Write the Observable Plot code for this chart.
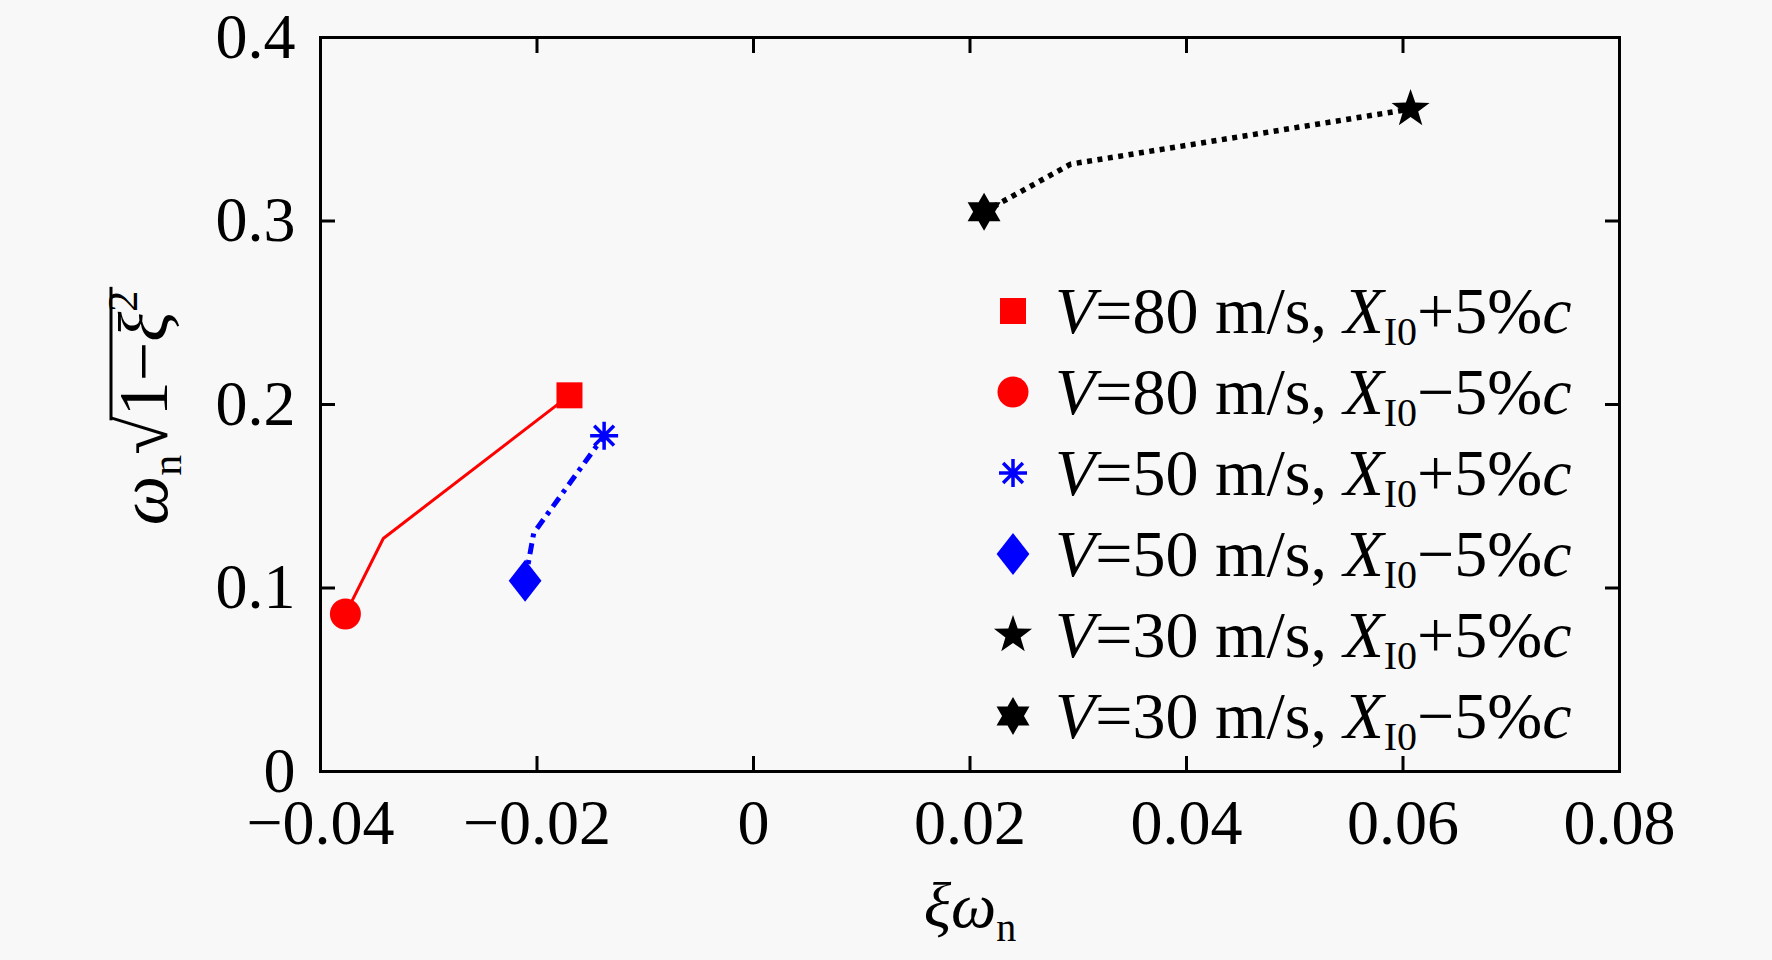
<!DOCTYPE html>
<html><head><meta charset="utf-8">
<script src="https://cdn.jsdelivr.net/npm/d3@7"></script>
<script src="https://cdn.jsdelivr.net/npm/@observablehq/plot@0.6"></script>
<style>
html,body{margin:0;padding:0;background:#f8f8f8;}
svg text{font-family:"Liberation Serif","Times New Roman",serif;}
</style>
</head><body><div id="chart"></div>
<script>
// ---- data ----
const speeds = [80, 50, 30];                       // V, m/s
const colors = ["#ff0000", "#0000ff", "#000000"];
// real part ξω_n for X_I0−5%c, nominal, X_I0+5%c
const realMinus   = [-0.0377, -0.0211, 0.0213];
const realNominal = [-0.0342, -0.0203, 0.0293];
const realPlus    = [-0.0170, -0.0138, 0.0607];
// imaginary part ω_n√(1−ξ²)
const imagMinus   = [0.0858, 0.104, 0.305];
const imagNominal = [0.127, 0.130, 0.331];
const imagPlus    = [0.205, 0.183, 0.361];
const xTicks = [-0.04, -0.02, 0, 0.02, 0.04, 0.06, 0.08];
const yTicks = [0, 0.1, 0.2, 0.3, 0.4];
const legendSpeeds = [80, 80, 50, 50, 30, 30];
const legendSigns = ["+", "\u2212", "+", "\u2212", "+", "\u2212"];

// ---- symbols ----
const rad = s => Math.sqrt(s / Math.PI);
const symSquare = {draw(c, s){const r = rad(s); c.moveTo(-r,-r); c.lineTo(r,-r); c.lineTo(r,r); c.lineTo(-r,r); c.closePath();}};
const symCircle = {draw(c, s){const r = rad(s); c.moveTo(r,0); c.arc(0,0,r,0,2*Math.PI); c.closePath();}};
const symAsterisk = {draw(c, s){const r = rad(s), d = r*Math.SQRT1_2;
  c.moveTo(-r,0); c.lineTo(r,0); c.moveTo(0,-r); c.lineTo(0,r);
  c.moveTo(-d,-d); c.lineTo(d,d); c.moveTo(-d,d); c.lineTo(d,-d);}};
const symDiamond = {draw(c, s){const r = rad(s), w = r*0.78; c.moveTo(0,-r); c.lineTo(w,0); c.lineTo(0,r); c.lineTo(-w,0); c.closePath();}};
function starSym(n, ratio){ return {draw(c, s){const r = rad(s), ri = r*ratio;
  for (let i = 0; i < 2*n; i++){ const a = -Math.PI/2 + i*Math.PI/n, rr = i % 2 ? ri : r;
    const px = rr*Math.cos(a), py = rr*Math.sin(a); if (i) c.lineTo(px,py); else c.moveTo(px,py);} c.closePath();}}; }
const symStar5 = starSym(5, 0.40);
const symStar6 = starSym(6, 0.577);

const plusSym = [symSquare, symAsterisk, symStar5];
const minusSym = [symCircle, symDiamond, symStar6];
const plusR = [13, 14, 20];
const minusR = [15.5, 21, 19];
const lineStyle = [
  {strokeWidth: 3, strokeDasharray: null},
  {strokeWidth: 5, strokeDasharray: "11,6,4,6"},
  {strokeWidth: 5.5, strokeDasharray: "5,5.5"}
];

const marks = [];
speeds.forEach((v, i) => {
  const pts = [
    {x: realMinus[i], y: imagMinus[i]},
    {x: realNominal[i], y: imagNominal[i]},
    {x: realPlus[i], y: imagPlus[i]}
  ];
  marks.push(Plot.line(pts, {x: "x", y: "y", stroke: colors[i], strokeWidth: lineStyle[i].strokeWidth,
    strokeDasharray: lineStyle[i].strokeDasharray, strokeLinecap: "butt", strokeLinejoin: "miter", curve: "linear"}));
});
speeds.forEach((v, i) => {
  const isAst = plusSym[i] === symAsterisk;
  marks.push(Plot.dot([{x: realPlus[i], y: imagPlus[i]}], {x: "x", y: "y", symbol: plusSym[i], r: plusR[i],
    fill: isAst ? "none" : colors[i], stroke: colors[i], strokeWidth: isAst ? 3.5 : 0}));
  marks.push(Plot.dot([{x: realMinus[i], y: imagMinus[i]}], {x: "x", y: "y", symbol: minusSym[i], r: minusR[i],
    fill: colors[i], stroke: colors[i], strokeWidth: 0}));
});

const fmtX = d => d === 0 ? "0" : (d < 0 ? "\u2212" : "") + Math.abs(d).toFixed(2);
const fmtY = d => d === 0 ? "0" : d.toFixed(1);

const chart = Plot.plot({
  width: 1772, height: 960,
  marginLeft: 320, marginRight: 153, marginTop: 37, marginBottom: 189,
  x: {domain: [-0.04, 0.08]},
  y: {domain: [0, 0.4]},
  style: {background: "#f8f8f8", fontFamily: "Liberation Serif", fontSize: "64px", color: "black"},
  marks: [
    Plot.axisX({anchor: "bottom", ticks: xTicks, tickSize: -15, tickPadding: 42, tickFormat: fmtX, label: null, strokeWidth: 3}),
    Plot.axisX({anchor: "top", ticks: xTicks, tickSize: -15, tickFormat: () => "", label: null, strokeWidth: 3}),
    Plot.axisY({anchor: "left", ticks: yTicks, tickSize: -15, tickPadding: 40, tickFormat: fmtY, label: null, strokeWidth: 3}),
    Plot.axisY({anchor: "right", ticks: yTicks, tickSize: -15, tickFormat: () => "", label: null, strokeWidth: 3}),
    ...marks,
    Plot.frame({stroke: "black", strokeWidth: 3})
  ]
});
document.getElementById("chart").appendChild(chart);

// ---- axis labels & legend (rich text) ----
const svg = d3.select(chart);
// x label
const xl = svg.append("text").attr("x", 970).attr("y", 927).attr("text-anchor", "middle").attr("font-size", 64).attr("fill", "black");
xl.append("tspan").attr("font-style", "italic").text("\u03BE\u03C9");
xl.append("tspan").attr("font-size", 40).attr("dy", 14).text("n");

// y label
const ylg = svg.append("g").attr("transform", "translate(167,408) rotate(-90)");
const yl = ylg.append("text").attr("text-anchor", "middle").attr("font-size", 70).attr("fill", "black");
yl.append("tspan").attr("font-style", "italic").text("\u03C9");
yl.append("tspan").attr("font-size", 42).attr("dy", 14).text("n");
yl.append("tspan").attr("dy", -14).text("\u221A");
yl.append("tspan").text("1\u2212");
yl.append("tspan").attr("font-style", "italic").text("\u03BE");
yl.append("tspan").attr("font-size", 42).attr("dy", -30).text("2");
{
  const node = yl.node();
  const x0 = node.getStartPositionOfChar(3).x - 4;
  const x1 = node.getEndPositionOfChar(6).x + 4;
  ylg.append("line").attr("x1", x0).attr("x2", x1).attr("y1", -56).attr("y2", -56)
    .attr("stroke", "black").attr("stroke-width", 3);
}

// legend
const legSym = [symSquare, symCircle, symAsterisk, symDiamond, symStar5, symStar6];
const legR = [13, 15.5, 14, 21, 20, 19];
const legColor = ["#ff0000", "#ff0000", "#0000ff", "#0000ff", "#000000", "#000000"];
const lg = svg.append("g");
legendSpeeds.forEach((v, i) => {
  const cy = 311 + 81*i;
  const isAst = legSym[i] === symAsterisk;
  lg.append("path")
    .attr("transform", `translate(1013,${cy})`)
    .attr("d", d3.symbol(legSym[i], Math.PI*legR[i]*legR[i])())
    .attr("fill", isAst ? "none" : legColor[i])
    .attr("stroke", legColor[i]).attr("stroke-width", isAst ? 3.5 : 0);
  const t = lg.append("text").attr("x", 1055).attr("y", cy + 22).attr("text-anchor", "start")
    .attr("font-size", 66).attr("fill", "black");
  t.append("tspan").attr("font-style", "italic").text("V");
  t.append("tspan").text(`=${v} m/s, `);
  t.append("tspan").attr("font-style", "italic").text("X");
  t.append("tspan").attr("font-size", 40).attr("dy", 12).text("I0");
  t.append("tspan").attr("dy", -12).text(`${legendSigns[i]}5%`);
  t.append("tspan").attr("font-style", "italic").text("c");
});
</script>
</body></html>
